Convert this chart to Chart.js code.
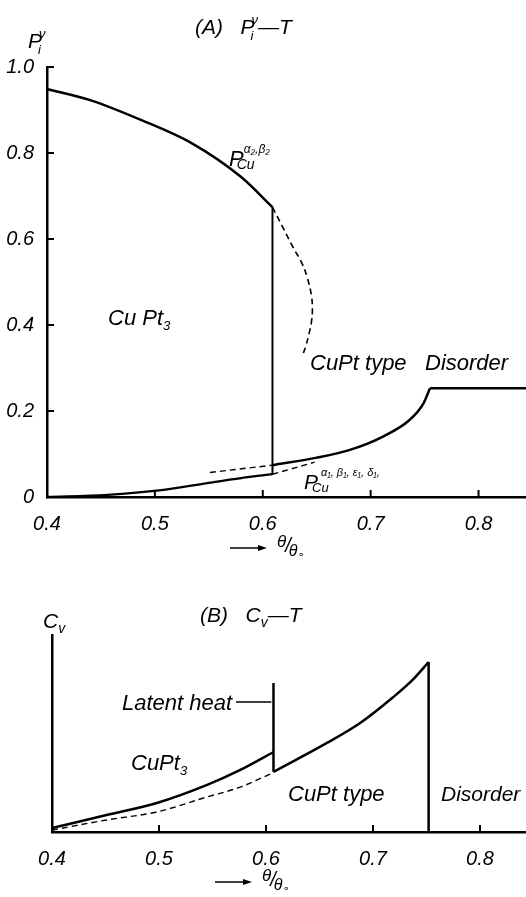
<!DOCTYPE html>
<html>
<head>
<meta charset="utf-8">
<script src="https://cdn.jsdelivr.net/npm/chart.js@4/dist/chart.umd.min.js"></script>
<style>
  html, body { margin: 0; padding: 0; background: #fff; }
  canvas { display: block; }
</style>
</head>
<body>
<canvas id="chartA" width="526" height="560"></canvas>
<canvas id="chartB" width="526" height="337"></canvas>
<script>
// ---- (A) P_i^v - T ----
const aUpperX = [0.400, 0.440, 0.487, 0.534, 0.580, 0.609];
const aUpperY = [0.949, 0.923, 0.877, 0.823, 0.744, 0.674];
const aUpperDashX = [0.609, 0.618, 0.628, 0.636, 0.641, 0.645, 0.646, 0.645, 0.643, 0.640, 0.637];
const aUpperDashY = [0.674, 0.630, 0.581, 0.545, 0.512, 0.470, 0.435, 0.405, 0.381, 0.352, 0.330];
const aJumpX = [0.609, 0.609];
const aJumpY = [0.053, 0.674];
const aLowX = [0.400, 0.456, 0.506, 0.550, 0.580, 0.609];
const aLowY = [0.000, 0.005, 0.016, 0.033, 0.044, 0.053];
const aLowDashX = [0.609, 0.648];
const aLowDashY = [0.053, 0.081];
const aCuPtDashX = [0.551, 0.609];
const aCuPtDashY = [0.057, 0.074];
const aCuPtX = [0.609, 0.649, 0.680, 0.711, 0.736, 0.749, 0.755];
const aCuPtY = [0.074, 0.091, 0.109, 0.140, 0.179, 0.218, 0.253];
const aDisorderX = [0.755, 0.844];
const aDisorderY = [0.253, 0.253];

// ---- (B) C_v - T ----
const bCuPt3X = [0.400, 0.451, 0.498, 0.545, 0.576, 0.607];
const bCuPt3Y = [0.020, 0.086, 0.147, 0.239, 0.315, 0.406];
const bDashX = [0.400, 0.451, 0.498, 0.545, 0.576, 0.607];
const bDashY = [0.010, 0.061, 0.102, 0.178, 0.228, 0.302];
const bLatentX = [0.607, 0.607];
const bLatentY = [0.305, 0.756];
const bArrowX = [0.572, 0.605];
const bArrowY = [0.660, 0.660];
const bCuPtX = [0.607, 0.657, 0.688, 0.719, 0.737, 0.752];
const bCuPtY = [0.305, 0.452, 0.553, 0.685, 0.772, 0.863];
const bDropX = [0.752, 0.752];
const bDropY = [0.863, 0.000];

const xTicks = [0.4, 0.5, 0.6, 0.7, 0.8];
const yTicksA = [0, 0.2, 0.4, 0.6, 0.8, 1.0];

const FONT = '"Liberation Sans", "DejaVu Sans", sans-serif';

function line(xs, ys, width, dash, smooth) {
  const ds = {
    data: xs.map((x, i) => ({ x: x, y: ys[i] })),
    borderColor: '#000',
    borderWidth: width,
    borderDash: dash || [],
    pointRadius: 0,
    fill: false,
    clip: false
  };
  if (smooth === 'mono') ds.cubicInterpolationMode = 'monotone';
  else if (smooth) ds.tension = 0.4;
  return ds;
}

// draws a string made of parts (normal / sub / sup)
function rich(ctx, x, y, parts, size) {
  let cx = x;
  ctx.fillStyle = '#000';
  ctx.textBaseline = 'alphabetic';
  ctx.textAlign = 'left';
  parts.forEach(p => {
    const s = p.s || size;
    ctx.font = 'italic ' + s + 'px ' + FONT;
    cx += p.dx || 0;
    ctx.fillText(p.t, cx, y + (p.dy || 0));
    if (!p.stack) cx += ctx.measureText(p.t).width;
  });
}

function arrowTitle(ctx, x, y) {
  ctx.save();
  ctx.strokeStyle = '#000';
  ctx.fillStyle = '#000';
  ctx.lineWidth = 1.3;
  ctx.beginPath();
  ctx.moveTo(x, y);
  ctx.lineTo(x + 34, y);
  ctx.stroke();
  ctx.beginPath();
  ctx.moveTo(x + 37, y);
  ctx.lineTo(x + 28, y - 3);
  ctx.lineTo(x + 28, y + 3);
  ctx.closePath();
  ctx.fill();
  ctx.restore();
  rich(ctx, x + 47, y + 4, [
    { t: 'θ', dy: -5, s: 17 },
    { t: '/', s: 20, dx: -1 },
    { t: 'θ', dy: 4, s: 16, dx: -2 },
    { t: '∘', dy: 6, s: 11 }
  ], 20);
}

const decor = {
  id: 'decor',
  afterDraw(chart, args, opts) {
    const ctx = chart.ctx;
    const xs = chart.scales.x, ys = chart.scales.y;
    ctx.save();
    ctx.strokeStyle = '#000';
    ctx.lineWidth = 2;
    // inward tick marks
    xTicks.slice(1).forEach(v => {
      const px = xs.getPixelForValue(v);
      ctx.beginPath();
      ctx.moveTo(px, ys.bottom);
      ctx.lineTo(px, ys.bottom - 7);
      ctx.stroke();
    });
    if (opts.yTicks) {
      yTicksA.slice(1).forEach(v => {
        const py = ys.getPixelForValue(v);
        ctx.beginPath();
        ctx.moveTo(xs.left, py);
        ctx.lineTo(xs.left + 7, py);
        ctx.stroke();
      });
    }
    ctx.restore();
    opts.draw(ctx);
  }
};

function axes(xMax, yTicks, xHeight, yWidth) {
  return {
    x: {
      type: 'linear', min: 0.4, max: xMax,
      border: { color: '#000', width: 2.5 },
      grid: { display: false },
      ticks: {
        stepSize: 0.1, includeBounds: false, padding: 7, color: '#000',
        font: { family: FONT, size: 20, style: 'italic' },
        callback: v => v.toFixed(1)
      },
      afterFit: s => { s.height = xHeight; }
    },
    y: {
      type: 'linear', min: 0, max: 1,
      border: { color: '#000', width: 2.5 },
      grid: { display: false },
      ticks: {
        display: yTicks, stepSize: 0.2, padding: 5, color: '#000',
        font: { family: FONT, size: 20, style: 'italic' },
        callback: v => v === 0 ? '0' : v.toFixed(1)
      },
      afterFit: s => { s.width = yWidth; }
    }
  };
}

new Chart(document.getElementById('chartA'), {
  type: 'line',
  data: {
    datasets: [
      line(aUpperX, aUpperY, 2.5, null, 'mono'),
      line(aUpperDashX, aUpperDashY, 1.6, [6, 4], true),
      line(aJumpX, aJumpY, 2),
      line(aLowX, aLowY, 2.3, null, 'mono'),
      line(aLowDashX, aLowDashY, 1.4, [6, 4]),
      line(aCuPtDashX, aCuPtDashY, 1.4, [6, 4]),
      line(aCuPtX, aCuPtY, 2.5, null, 'mono'),
      line(aDisorderX, aDisorderY, 2.5)
    ]
  },
  options: {
    responsive: false, animation: false, events: [],
    layout: { padding: { top: 67, right: 0, left: 0, bottom: 0 } },
    scales: axes(0.844, true, 63, 47),
    plugins: {
      legend: { display: false },
      tooltip: { enabled: false },
      decor: {
        yTicks: true,
        draw(ctx) {
          rich(ctx, 195, 34, [
            { t: '(A)   P' },
            { t: 'i', dy: 6, s: 13, stack: true, dx: -4 },
            { t: 'ν', dy: -10, s: 13, dx: 1 },
            { t: '—T' }
          ], 21);
          rich(ctx, 28, 48, [
            { t: 'P' },
            { t: 'i', dy: 6, s: 13, stack: true, dx: -4 },
            { t: 'ν', dy: -10, s: 13, dx: 1 }
          ], 21);
          rich(ctx, 108, 325, [{ t: 'Cu Pt' }, { t: '3', dy: 5, s: 13 }], 22);
          rich(ctx, 229, 166, [
            { t: 'P', s: 22 },
            { t: 'Cu', dy: 3, s: 14, dx: -7, stack: true },
            { t: 'α₂,β₂', dy: -13, s: 12, dx: 7 }
          ], 22);
          rich(ctx, 310, 370, [{ t: 'CuPt type' }], 22);
          rich(ctx, 425, 370, [{ t: 'Disorder' }], 22);
          rich(ctx, 304, 489, [
            { t: 'P', s: 21 },
            { t: 'Cu', dy: 3, s: 13, dx: -6, stack: true },
            { t: 'α₁, β₁, ε₁, δ₁,', dy: -13, s: 11, dx: 9 }
          ], 21);
          arrowTitle(ctx, 230, 548);
        }
      }
    }
  },
  plugins: [decor]
});

new Chart(document.getElementById('chartB'), {
  type: 'line',
  data: {
    datasets: [
      line(bCuPt3X, bCuPt3Y, 2.5, null, 'mono'),
      line(bDashX, bDashY, 1.4, [6, 4], 'mono'),
      line(bLatentX, bLatentY, 2.5),
      line(bArrowX, bArrowY, 1.5),
      line(bCuPtX, bCuPtY, 2.5, null, 'mono'),
      line(bDropX, bDropY, 2.5)
    ]
  },
  options: {
    responsive: false, animation: false, events: [],
    layout: { padding: { top: 75, right: 0, left: 0, bottom: 0 } },
    scales: axes(0.843, false, 65, 52),
    plugins: {
      legend: { display: false },
      tooltip: { enabled: false },
      decor: {
        yTicks: false,
        draw(ctx) {
          rich(ctx, 200, 62, [
            { t: '(B)   C' },
            { t: 'v', dy: 5, s: 14 },
            { t: '—T' }
          ], 21);
          rich(ctx, 43, 68, [{ t: 'C' }, { t: 'v', dy: 5, s: 14 }], 21);
          rich(ctx, 122, 150, [{ t: 'Latent heat' }], 22);
          rich(ctx, 131, 210, [{ t: 'CuPt' }, { t: '3', dy: 5, s: 13 }], 22);
          rich(ctx, 288, 241, [{ t: 'CuPt type' }], 22);
          rich(ctx, 441, 241, [{ t: 'Disorder' }], 21);
          arrowTitle(ctx, 215, 322);
        }
      }
    }
  },
  plugins: [decor]
});
</script>
</body>
</html>
